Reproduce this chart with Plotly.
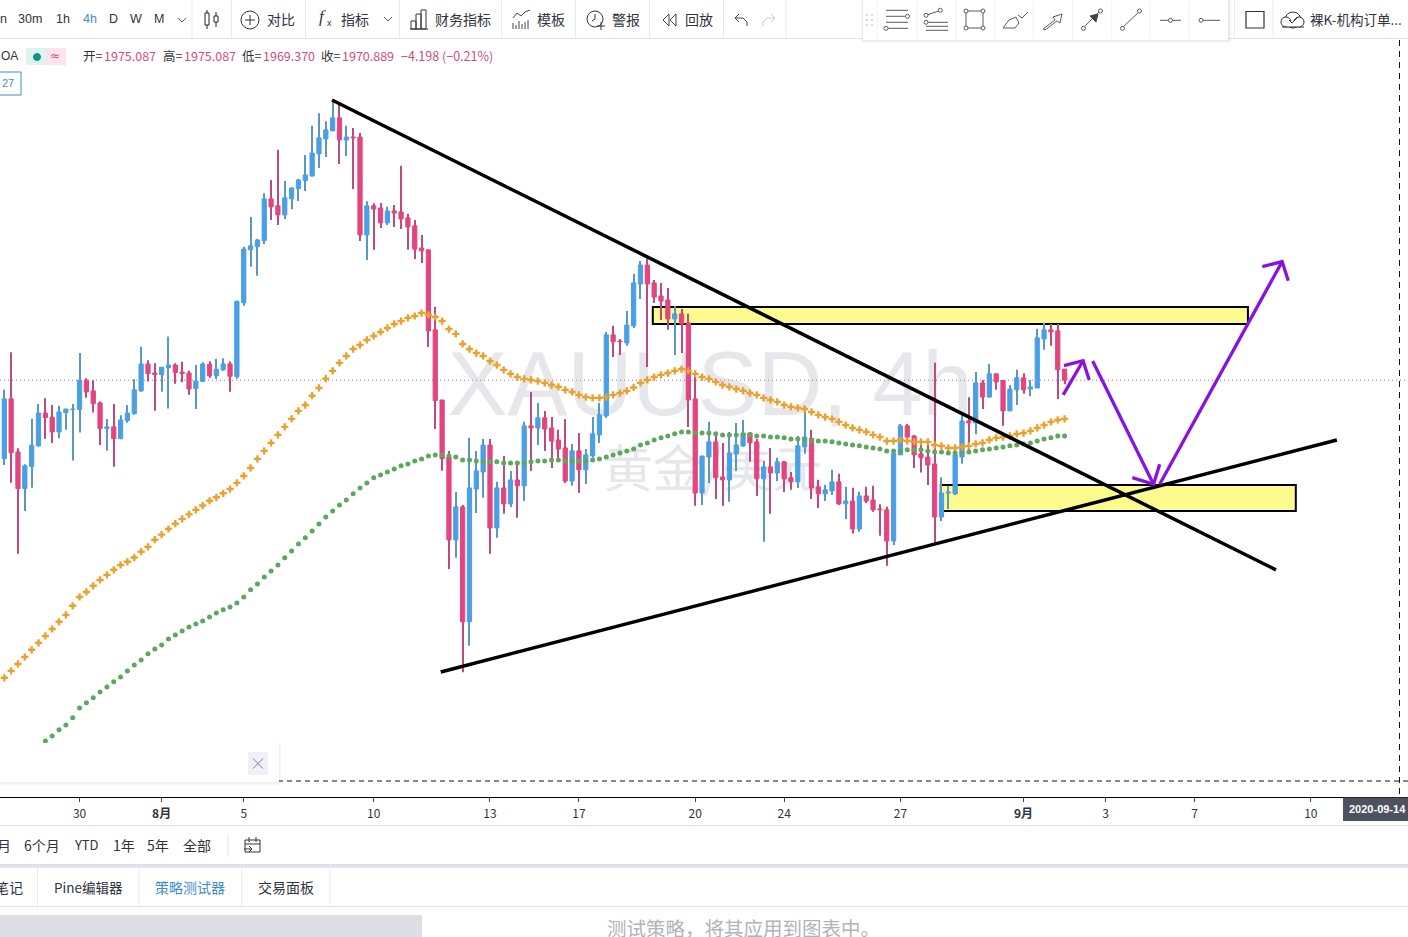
import plotly.graph_objects as go

# ---------- DATA ----------
open_ = [1941.5,1963.9,1944.0,1930.3,1938.5,1946.3,1958.6,1957.0,1951.5,1958.8,1959.9,1959.9,1970.9,1966.9,1962.4,1952.8,1953.4,1949.0,1955.8,1958.4,
1966.9,1977.0,1973.6,1973.0,1975.6,1976.6,1974.0,1973.6,1967.8,1970.5,1976.9,1972.6,1974.8,1977.0,1972.3,2000.0,2019.8,2021.0,2023.3,2038.9,
2036.3,2032.9,2039.0,2042.8,2045.8,2047.5,2055.8,2061.4,2064.4,2069.3,2061.0,2062.1,2062.1,2025.4,2036.3,2035.5,2029.9,2034.4,2034.0,2031.8,
2028.8,2020.5,2019.8,1989.8,1963.5,1942.1,1911.0,1923.4,1880.3,1930.1,1936.5,1946.6,1915.5,1930.5,1924.5,1933.5,1931.3,1953.8,1953.0,1956.8,
1953.0,1948.5,1945.5,1933.1,1944.4,1937.3,1942.5,1950.4,1957.5,1987.9,1985.6,1984.9,1991.3,2007.0,2014.1,2007.4,2002.5,2001.0,1993.9,1995.8,
1992.4,1963.9,1928.6,1942.1,1947.8,1934.6,1933.5,1943.3,1946.3,1951.1,1947.8,1933.9,1938.4,1936.1,1940.3,1934.3,1932.8,1945.9,1949.1,1930.9,
1928.3,1929.4,1932.8,1924.6,1925.6,1915.1,1927.5,1926.0,1922.6,1922.3,1910.6,1942.9,1953.8,1950.0,1943.3,1942.1,1939.5,1919.6,1928.6,1928.3,
1942.1,1955.6,1954.9,1969.9,1964.6,1973.3,1970.8,1959.4,1967.3,1971.8,1967.6,1968.0,1986.4,1989.8,1989.4,1975.087]
high = [1967.3,1981.4,1945.4,1939.4,1956.5,1962.0,1964.1,1961.6,1961.3,1960.1,1962.0,1981.1,1971.6,1970.9,1962.9,1956.4,1962.0,1957.8,1961.6,1971.3,
1983.5,1978.4,1977.3,1975.8,1987.3,1977.3,1977.8,1974.5,1976.6,1977.6,1978.0,1978.9,1979.1,1977.9,2000.8,2021.0,2032.1,2023.9,2041.0,2046.0,
2057.3,2045.6,2043.3,2046.4,2055.4,2066.3,2071.0,2068.0,2076.0,2074.8,2066.3,2065.5,2063.6,2038.0,2037.3,2037.4,2036.0,2036.6,2051.3,2033.3,
2031.0,2025.4,2019.8,1998.5,1963.5,1944.4,1929.0,1924.1,1949.3,1944.4,1948.9,1948.9,1932.8,1942.5,1936.9,1939.1,1955.3,1966.5,1962.4,1959.4,
1957.1,1952.3,1956.4,1947.0,1951.1,1945.1,1957.1,1962.4,1989.0,1991.3,1986.4,1996.9,2010.8,2015.6,2016.4,2008.5,2007.4,2005.5,1998.8,1997.6,
1995.8,1972.9,1942.5,1955.3,1951.5,1947.4,1951.5,1954.9,1956.0,1951.5,1948.9,1940.6,1945.5,1941.8,1940.6,1936.5,1950.0,1961.3,1952.3,1933.5,
1931.6,1937.3,1935.8,1931.0,1930.6,1929.1,1931.0,1931.3,1924.4,1923.5,1945.0,1954.5,1954.5,1950.4,1948.5,1948.5,1977.5,1934.5,1931.3,1944.1,
1957.9,1964.5,1974.0,1971.0,1977.0,1973.3,1971.0,1969.1,1974.8,1973.5,1971.0,1990.1,1992.5,1992.0,1992.0,1975.087]
low = [1939.1,1932.5,1905.8,1921.9,1930.6,1946.0,1949.0,1947.4,1949.1,1952.3,1940.8,1951.3,1964.3,1958.8,1946.6,1944.5,1938.5,1948.8,1955.0,1958.0,
1966.6,1970.4,1959.5,1966.6,1960.3,1969.6,1970.1,1965.5,1960.1,1970.3,1971.8,1971.4,1974.5,1966.6,1971.5,1998.8,2013.5,2010.1,2021.9,2031.0,
2029.1,2031.4,2035.0,2038.1,2041.9,2047.3,2050.5,2054.6,2064.4,2052.0,2055.0,2042.6,2023.1,2016.0,2019.8,2028.0,2029.1,2028.4,2027.6,2019.8,
2016.4,2014.9,1983.4,1952.6,1937.0,1900.1,1904.3,1861.4,1871.3,1921.1,1926.8,1905.8,1911.8,1920.8,1923.4,1919.3,1925.6,1936.9,1946.6,1944.4,
1938.0,1941.0,1932.4,1931.3,1928.6,1932.0,1941.8,1947.4,1956.8,1979.6,1980.4,1983.8,1990.5,2001.4,1975.9,1999.9,1993.5,1989.8,1980.4,1981.1,
1953.4,1923.8,1924.1,1932.4,1926.4,1923.8,1925.3,1936.9,1946.0,1940.3,1927.5,1910.3,1920.8,1933.1,1929.0,1929.8,1930.5,1943.3,1926.4,1923.0,
1925.6,1927.9,1924.1,1918.9,1913.4,1914.1,1924.8,1921.6,1912.6,1901.3,1909.1,1942.9,1947.5,1938.0,1936.3,1931.6,1909.1,1918.1,1922.6,1927.9,
1939.6,1944.4,1950.6,1960.1,1964.4,1967.3,1953.8,1959.4,1961.6,1965.8,1965.0,1968.0,1982.3,1983.8,1963.9,1969.370]
close = [1963.9,1943.8,1930.3,1938.8,1946.5,1958.6,1956.9,1951.5,1959.0,1960.1,1960.1,1970.9,1966.5,1962.1,1952.8,1953.4,1949.0,1956.0,1958.6,1967.3,
1977.0,1973.4,1973.0,1975.8,1976.6,1973.8,1973.4,1967.6,1970.6,1977.0,1972.6,1975.0,1977.0,1972.4,2000.4,2020.1,2021.3,2023.5,2038.9,2035.9,
2032.9,2039.3,2043.0,2046.0,2047.9,2056.1,2061.8,2064.8,2069.3,2061.0,2062.1,2061.8,2025.4,2036.3,2035.1,2029.9,2034.4,2033.6,2031.4,2028.4,
2020.1,2019.4,1989.4,1963.3,1941.5,1911.0,1923.4,1880.3,1930.5,1936.9,1946.6,1915.5,1930.5,1924.5,1933.5,1931.3,1953.8,1953.0,1956.8,1952.6,
1948.1,1945.1,1933.1,1944.4,1937.3,1942.9,1950.8,1957.9,1987.9,1985.3,1985.3,1991.6,2007.4,2014.1,2007.0,2002.1,2000.6,1993.9,1995.8,1992.0,
1963.5,1928.6,1942.5,1947.8,1934.3,1933.5,1943.6,1946.6,1951.1,1947.4,1933.9,1938.4,1936.1,1940.3,1933.9,1932.8,1946.3,1949.6,1930.5,1928.3,
1929.8,1932.8,1924.5,1925.6,1915.1,1927.5,1925.6,1922.3,1922.3,1910.6,1943.5,1953.8,1949.6,1942.9,1941.8,1939.1,1919.6,1928.6,1929.0,1942.9,
1955.6,1954.9,1969.9,1964.6,1973.3,1970.3,1959.4,1967.6,1971.8,1967.3,1968.4,1986.8,1989.8,1989.0,1974.8,1970.889]

ma_orange = [1859.3,1861.9,1864.5,1867.1,1869.8,1872.4,1875.0,1877.6,1880.3,1882.9,1886.3,1889.6,1891.5,1893.8,1896.0,1897.9,1899.8,1901.6,1902.8,1904.4,
1906.6,1908.4,1911.1,1913.0,1915.1,1917.1,1918.9,1920.6,1922.3,1923.9,1925.7,1927.0,1928.5,1930.1,1932.4,1935.0,1938.0,1941.4,1944.4,1947.4,
1950.4,1953.4,1956.4,1959.4,1961.6,1965.1,1968.0,1971.5,1974.4,1977.4,1980.0,1982.6,1984.1,1986.0,1987.5,1989.0,1990.5,1992.0,1993.1,1994.3,
1995.0,1996.1,1995.4,1994.6,1993.1,1990.1,1988.3,1984.5,1982.6,1981.1,1980.0,1978.1,1976.6,1974.8,1973.3,1972.1,1971.4,1971.0,1970.6,1969.9,
1969.1,1968.4,1967.3,1966.5,1965.4,1964.6,1964.3,1964.3,1964.6,1965.4,1966.1,1966.9,1968.2,1969.9,1971.0,1972.1,1972.9,1973.6,1974.4,1975.1,
1974.4,1973.3,1972.1,1971.4,1970.3,1969.1,1968.4,1967.6,1966.9,1966.1,1965.4,1964.3,1963.5,1962.8,1961.6,1960.9,1960.5,1960.1,1959.0,1957.9,
1957.1,1956.4,1955.3,1954.1,1953.0,1952.3,1951.5,1950.4,1949.6,1948.1,1948.1,1948.5,1948.1,1947.8,1947.8,1947.8,1946.6,1946.3,1945.5,1945.5,
1945.9,1946.3,1947.0,1947.4,1948.5,1949.3,1949.6,1950.0,1950.8,1951.1,1951.9,1953.0,1954.1,1955.3,1956.0,1956.4]
ma_green = [None,None,None,None,None,None,1835.6,1837.5,1839.8,1841.6,1844.3,1848.0,1849.9,1851.8,1854.0,1855.9,1857.8,1859.6,1861.9,1864.1,
1866.0,1868.3,1870.1,1871.6,1873.9,1875.4,1876.9,1878.4,1879.5,1880.6,1882.1,1883.6,1884.8,1885.9,1887.4,1889.6,1892.3,1894.5,1897.1,1899.4,
1901.6,1904.3,1906.9,1909.5,1911.8,1914.4,1917.0,1919.6,1921.9,1924.1,1926.0,1928.3,1930.5,1932.4,1934.3,1935.4,1936.5,1937.6,1938.8,1939.5,
1940.6,1941.4,1942.5,1942.9,1942.9,1942.5,1942.1,1941.0,1941.0,1940.6,1940.3,1940.3,1940.3,1939.9,1939.9,1939.9,1939.9,1940.3,1940.6,1940.6,
1941.0,1941.0,1940.6,1940.6,1940.6,1940.6,1941.0,1941.4,1942.1,1942.9,1943.6,1944.4,1945.1,1946.6,1947.4,1948.5,1949.3,1950.0,1950.8,1951.5,
1951.5,1951.1,1951.1,1951.1,1950.8,1950.4,1950.4,1950.4,1950.4,1950.4,1950.0,1950.0,1949.6,1949.6,1949.3,1948.9,1948.9,1948.5,1948.1,1948.1,
1948.1,1947.8,1947.4,1947.0,1946.6,1946.3,1945.9,1945.5,1945.1,1944.4,1944.4,1944.4,1944.8,1944.8,1944.8,1944.4,1944.0,1944.0,1943.6,1943.6,
1943.6,1944.0,1944.4,1944.8,1945.1,1945.5,1945.9,1946.3,1946.6,1947.0,1947.4,1948.1,1948.9,1949.3,1950.0,1950.0]

bars = list(range(len(close)))
last_close = 1970.889

tick_bars = [11,23,35,54,71,84,101,114,131,149,161,174,191]
tick_labels = ["30","<b>8月</b>","5","10","13","17","20","24","27","<b>9月</b>","3","7","10"]

# analyst drawings, in (bar, price)
trend_down_x, trend_down_y = [47.9,185.9], [2076.0,1899.8]
trend_up_x, trend_up_y = [63.8,194.8], [1861.5,1948.5]
zone_top = dict(x=[94.8,181.8], y=[1992.0,1998.4])
zone_bottom = dict(x=[136.9,188.8], y=[1921.9,1931.6])
arrow_x = [154.8,157.7,None,154.9,157.7,158.6,None,159.1,168.0,None,164.9,168.0,168.9,None,168.9,186.8,None,183.9,186.8,187.7]
arrow_y = [1965.4,1978.2,None,1976.4,1978.2,1971.0,None,1978.1,1931.9,None,1934.4,1931.9,1939.4,None,1931.9,2015.4,None,2013.5,2015.4,2008.2]

BLUE, PINK = "#4a9fe6", "#e2457f"
WICK_BLUE, WICK_PINK = "#5b97c6", "#bd4b82"
W, H = 1408, 937
FONT = "Noto Sans CJK SC, Liberation Sans, sans-serif"

up = [c >= o for o, c in zip(open_, close)]
body_colors = [BLUE if u else PINK for u in up]
wick_colors = [WICK_BLUE if u else WICK_PINK for u in up]

fig = go.Figure()
fig.add_trace(go.Bar(x=bars, base=low, y=[h - l for h, l in zip(high, low)], width=0.15,
                     marker=dict(color=wick_colors, line=dict(width=0)), showlegend=False, hoverinfo="skip"))
fig.add_trace(go.Bar(x=bars, base=[min(o, c) for o, c in zip(open_, close)],
                     y=[abs(c - o) for o, c in zip(open_, close)], width=0.62,
                     marker=dict(color=body_colors, line=dict(color=body_colors, width=1)),
                     showlegend=False, hoverinfo="skip"))
fig.add_trace(go.Scatter(x=bars, y=ma_orange, mode="markers",
    marker=dict(symbol="cross", size=6, color="#e9a22e", line=dict(width=0)), showlegend=False, hoverinfo="skip"))
fig.add_trace(go.Scatter(x=bars, y=ma_green, mode="markers",
    marker=dict(symbol="circle", size=5, color="#5fa660", line=dict(width=0)), showlegend=False, hoverinfo="skip"))
for xs, ys in ((trend_down_x, trend_down_y), (trend_up_x, trend_up_y)):
    fig.add_trace(go.Scatter(x=xs, y=ys, mode="lines", line=dict(color="#000000", width=3.5),
                             showlegend=False, hoverinfo="skip"))
fig.add_trace(go.Scatter(x=arrow_x, y=arrow_y, mode="lines", line=dict(color="#8a12e0", width=3.3),
                         showlegend=False, hoverinfo="skip", connectgaps=False))

shapes, notes = [], []
px = lambda x: x / W
py = lambda y: 1 - y / H

def L(x0, y0, x1, y1, c="#555555", w=1, dash=None, layer="above"):
    shapes.append(dict(type="line", xref="paper", yref="paper", x0=px(x0), y0=py(y0), x1=px(x1), y1=py(y1),
                       line=dict(color=c, width=w, dash=dash), layer=layer))
def R(x0, y0, x1, y1, fill="rgba(0,0,0,0)", c=None, w=0, layer="above"):
    shapes.append(dict(type="rect", xref="paper", yref="paper", x0=px(x0), y0=py(y0), x1=px(x1), y1=py(y1),
                       fillcolor=fill, line=dict(color=c or "rgba(0,0,0,0)", width=w), layer=layer))
def C(cx, cy, r, c="#555555", fill="#ffffff", w=1):
    shapes.append(dict(type="circle", xref="paper", yref="paper", x0=px(cx-r), y0=py(cy-r), x1=px(cx+r), y1=py(cy+r),
                       fillcolor=fill, line=dict(color=c, width=w), layer="above"))
def P(pts, c="#555555", fill=None, w=1, close=False):
    d = "M " + " L ".join(f"{px(a):.5f} {py(b):.5f}" for a, b in pts) + (" Z" if close else "")
    shapes.append(dict(type="path", xref="paper", yref="paper", path=d, line=dict(color=c, width=w),
                       fillcolor=fill or "rgba(0,0,0,0)", layer="above"))
def T(x, y, s, size=14, c="#2f3340", anchor="center", font=FONT):
    notes.append(dict(xref="paper", yref="paper", x=px(x), y=py(y - 1), text=s, showarrow=False, xanchor=anchor,
                      yanchor="middle", font=dict(family=font, size=size, color=c), borderpad=0))

# watermark and zones sit behind the candles
for txt, x0, x1, y0, y1, size, fam in (
    ("XAUUSD, 4h", 440, 980, 320, 430, 90, "Liberation Sans"),
    ("黄金/美元", 590, 835, 445, 500, 50, FONT)):
    shapes.append(dict(type="rect", xref="paper", yref="paper", x0=px(x0), x1=px(x1), y0=py(y0), y1=py(y1),
                       line=dict(width=0), fillcolor="rgba(0,0,0,0)", layer="below",
                       label=dict(text=txt, font=dict(family=fam, size=size, color="#e6e7eb"),
                                  textposition="middle center")))
for z in (zone_top, zone_bottom):
    shapes.append(dict(type="rect", xref="x", yref="y", x0=z["x"][0], x1=z["x"][1], y0=z["y"][0], y1=z["y"][1],
                       fillcolor="#fdfb8e", line=dict(color="#000000", width=2), layer="below"))
shapes.append(dict(type="line", xref="paper", yref="y", x0=0, x1=1, y0=last_close, y1=last_close,
                   line=dict(color="#c46a92", width=1, dash="1px,3px"), layer="below"))

# dashed cursor lines
L(278, 781, 1408, 781, "#111111", 1, "5px,4px")
L(1399.5, 40, 1399.5, 797, "#111111", 1, "6px,5px")

# top toolbar
R(0, 0, W, 38, "#ffffff")
L(0, 38.5, W, 38.5, "#e0e3eb")
for x in (192, 231.5, 305.5, 399.5, 501.5, 575.5, 649.5, 723.5, 786, 1234.5, 1273):
    L(x, 0, x, 38, "#e8eaf0")
for x, s, c in ((3,"n","#2f3340"),(30,"30m","#2f3340"),(63,"1h","#2f3340"),(90,"4h","#3d8ec9"),
                (113,"D","#2f3340"),(136,"W","#2f3340"),(159,"M","#2f3340")):
    T(x, 20, s, 12.5, c, font="Liberation Sans")
P([(178,18),(182,22),(186,18)], "#555555")
# candle icon
L(207,10,207,29,"#222222"); R(205,13,209,25,"#ffffff","#222222",1)
L(216,12,216,27,"#222222"); R(214,16,218,22,"#ffffff","#222222",1)
C(250,20,9,"#333333"); L(245,20,255,20,"#333333"); L(250,15,250,25,"#333333")
T(281,20,"对比")
T(322,18,"<i>f</i>",17,"#333333",font="Liberation Serif"); T(329,24,"x",9,"#333333",font="Liberation Sans")
T(355,20,"指标")
P([(384,17),(388,21),(392,17)], "#555555")
for a,b,c_,d in ((411,21,416,29),(416,14,421,29),(421,10,426,29)):
    R(a,b,c_,d,"rgba(0,0,0,0)","#333333",1)
L(410,29,428,29,"#333333")
T(463,20,"财务指标")
P([(513,18),(517,13),(521,16),(525,12),(530,10)], "#444444")
for x,h in ((513,23),(516,25),(519,21),(522,24),(525,22),(528,20)):
    L(x,h,x,29,"#444444")
T(551,20,"模板")
C(595,19,8,"#333333"); L(595,14,595,19,"#333333"); L(595,19,592,21,"#333333")
L(601,22,601,30,"#333333"); L(597,26,605,26,"#333333")
T(626,20,"警报")
P([(669,14),(663,20),(669,26),(669,14)],"#444444"); P([(676,14),(670,20),(676,26),(676,14)],"#444444")
T(699,20,"回放")
P([(739,14),(735,18),(739,22)],"#444444"); P([(735,18),(743,18),(747,22),(747,26)],"#444444")
P([(771,14),(775,18),(771,22)],"#c8cad0"); P([(775,18),(767,18),(763,22),(763,26)],"#c8cad0")

# floating drawing toolbar
R(861,0,1231,43,"rgba(30,40,70,0.04)"); R(862,0,1230,41.5,"rgba(30,40,70,0.06)")
R(863,0,1228,40,"#ffffff")
for x in (877,917,955.7,994.7,1033,1072.7,1111.7,1150,1189):
    L(x,1,x,39,"#eef0f4")
for x in (867,872):
    for y in (15,20,25):
        R(x-1,y-1,x+1,y+1,"#d8dae0")
IC = "#555a66"
for y in (10.3,22.3):
    L(886,y,908,y,IC)
L(886,16.3,905,16.3,IC); C(907.5,16.3,2,IC)
C(886,28.3,2,IC); L(888,28.3,908,28.3,IC)
L(926,15.3,940,10.5,IC); C(926,15.3,2,IC); C(940.3,10.3,2,IC)
C(926,22.3,2,IC); L(928,22.3,948,22.3,IC); L(926,26.3,948,26.3,IC); L(926,30.3,948,30.3,IC)
R(966,11,983,28,"rgba(0,0,0,0)",IC,1)
for a,b in ((966,11),(983,11),(966,28),(983,28)):
    C(a,b,2,IC)
P([(1003,28),(1009,20),(1016,17),(1019,23),(1015,28),(1003,28)],IC)
P([(1018,15),(1022,18),(1028,12)],IC)
P([(1043,29),(1055,20),(1053,17),(1062,14),(1060,23),(1057,21),(1045,30),(1043,29)],IC)
L(1085,26,1099,12,IC); C(1083.5,28.3,2,IC); C(1100.5,11,2,IC)
P([(1090,16),(1098,14),(1096,22),(1090,16)],"#444444","#444444")
L(1124,26,1138,13,IC); C(1122.5,28.3,2,IC); C(1139.5,11,2,IC)
L(1160,20.3,1181,20.3,IC); C(1170.5,20.3,2,IC)
C(1201,20.3,2,IC); L(1203,20.3,1220,20.3,IC)
R(1246,11.5,1264,28,"#ffffff","#333333",1.2)
C(1293,20,8,"#333333","#ffffff"); C(1286,22,5,"#333333","#ffffff"); C(1299,22,5,"#333333","#ffffff")
R(1286,21,1300,27,"#ffffff")
L(1282,27,1304,27,"#333333")
P([(1289,20),(1292,23),(1298,17)],"#333333")
T(1356,20,"裸K-机构订单...",13.5)

# symbol header
T(0,57,"OA",12,"#2f3340","left",font="Liberation Sans")
R(26,48,46,65,"#dff3ef"); R(46,48,66,65,"#fce3ec")
C(37,57,3.5,"#089981","#089981")
T(55,57,"≈",12,"#e2457f",font="DejaVu Sans")
R(-2,72,21,95,"#ffffff","#3d8ec9",1); T(8,84,"27",11,"#3d8ec9",font="Liberation Sans")
VAL = "#c9507f"
for x, s, c in ((82,"开=","#333333"),(103,"1975.087",VAL),(162,"高=","#333333"),(183,"1975.087",VAL),
                (241,"低=","#333333"),(262,"1969.370",VAL),(320,"收=","#333333"),(341,"1970.889",VAL),
                (400,"−4.198 (−0.21%)",VAL)):
    T(x,57,s,12.5,c,"left")

# info panel
R(0,743,281,785,"rgba(30,40,70,0.03)"); R(0,743,280,783.5,"rgba(30,40,70,0.05)")
R(0,743,279,782,"#ffffff")
R(248,752,268,775,"#eff0f8")
L(253,758.5,263,768.5,"#7d808a"); L(253,768.5,263,758.5,"#7d808a")

# time cursor label
R(1343,797.5,W,821,"#4c525e")
T(1377,810,"<b>2020-09-14</b>",11,"#ffffff",font="Liberation Sans Narrow, Liberation Sans")

# bottom panels
R(0,825,W,937,"#ffffff")
L(0,825.5,W,825.5,"#e0e3eb")
for x, s in ((4,"月"),(42,"6个月"),(86,"YTD"),(124,"1年"),(158,"5年"),(197,"全部")):
    T(x,845.5,s,14 if s != "YTD" else 13)
L(228,835,228,857,"#e0e3eb")
R(245,840,260,852,"rgba(0,0,0,0)","#333333",1); L(245,844,260,844,"#333333")
L(249,837,249,842,"#333333"); L(256,837,256,842,"#333333")
P([(244,849),(252,849)],"#333333"); P([(249,846),(252,849),(249,852)],"#333333")
R(0,864,W,867.7,"#e0e2eb")
L(0,906.5,W,906.5,"#e3e5ea")
for x in (37.5,139,241.7,330):
    L(x,868,x,906,"#e8eaf0")
T(9,888,"笔记",14)
T(88,888,"Pine编辑器",13.5)
T(190,888,"策略测试器",14,"#3d8ec9")
T(286,888,"交易面板",14)
R(0,915,422,937,"#dcdee3")
T(743,928,"测试策略，将其应用到图表中。",19.5,"#b0b3ba")

fig.update_layout(
    width=W, height=H, autosize=False, margin=dict(l=0, r=0, t=0, b=0, pad=0), barmode="overlay",
    paper_bgcolor="#ffffff", plot_bgcolor="#ffffff", showlegend=False, hovermode=False,
    shapes=shapes, annotations=notes, font=dict(family=FONT),
    xaxis=dict(range=[-0.629, 205.2], showgrid=False, zeroline=False,
               tickmode="array", tickvals=tick_bars, ticktext=tick_labels, ticks="outside", ticklen=4,
               tickcolor="#444444", tickwidth=1, showline=True, linecolor="#000000", linewidth=1,
               tickfont=dict(size=12, color="#2f3340", family=FONT), tickangle=0, ticklabelstandoff=2),
    yaxis=dict(range=[1814.6, 2098.5], domain=[(H-797)/H, (H-40)/H], showgrid=False, zeroline=False,
               showticklabels=False, ticks="", showline=False),
)
fig.write_html("out.html", post_script="document.body.style.margin='0';document.body.style.overflow='hidden';",
               config={"displayModeBar": False})
